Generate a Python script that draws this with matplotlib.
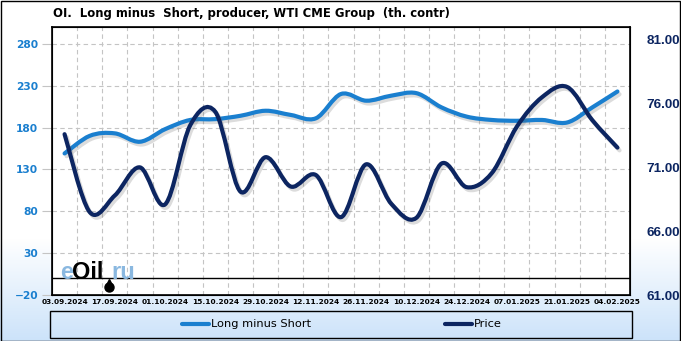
import numpy as np
import pandas as pd
import matplotlib
matplotlib.use("Agg")
import matplotlib.pyplot as plt
import matplotlib.dates as mdates
import matplotlib.patheffects as pe
from matplotlib.path import Path
from matplotlib.patches import PathPatch, Rectangle
from matplotlib.lines import Line2D
from matplotlib.font_manager import FontProperties

# weekly report dates
dates = pd.to_datetime([
    '2024-09-03', '2024-09-10', '2024-09-17', '2024-09-24', '2024-10-01', '2024-10-08',
    '2024-10-15', '2024-10-22', '2024-10-29', '2024-11-05', '2024-11-12', '2024-11-19',
    '2024-11-26', '2024-12-03', '2024-12-10', '2024-12-17', '2024-12-24', '2024-12-31',
    '2025-01-07', '2025-01-14', '2025-01-21', '2025-01-28', '2025-02-04'])

# Long minus Short, producer (th. contracts)
long_minus_short = [149, 170, 173, 163, 178, 189, 190, 194, 200, 195, 191, 220,
                    212, 218, 221, 204, 193, 189, 188, 189, 186, 204, 223]

# WTI price
price = [73.6, 67.5, 68.8, 71.0, 68.1, 74.3, 75.35, 69.1, 71.8, 69.5, 70.4, 67.1,
         71.24, 68.15, 67.05, 71.3, 69.45, 70.55, 74.2, 76.5, 77.3, 74.7, 72.55]

tick_labels = ['03.09.2024', '17.09.2024', '01.10.2024', '15.10.2024', '29.10.2024',
               '12.11.2024', '26.11.2024', '10.12.2024', '24.12.2024', '07.01.2025',
               '21.01.2025', '04.02.2025']

left_ticks = [-20, 30, 80, 130, 180, 230, 280]
right_ticks = [61, 66, 71, 76, 81]

BLUE = '#1a7fcf'
NAVY = '#0c2561'
W, H = 681, 341


def smooth_path(x, y):
    # catmull-rom curve through the points, as cubic bezier segments
    x = np.asarray(x, float)
    y = np.asarray(y, float)
    p = np.column_stack([x, y])
    verts = [p[0]]
    codes = [Path.MOVETO]
    n = len(p)
    for i in range(n - 1):
        p0 = p[i - 1] if i > 0 else p[i]
        p3 = p[i + 2] if i + 2 < n else p[i + 1]
        c1 = p[i] + (p[i + 1] - p0) / 6.0
        c2 = p[i + 1] - (p3 - p[i]) / 6.0
        verts += [c1, c2, p[i + 1]]
        codes += [Path.CURVE4] * 3
    return Path(verts, codes)


def px(x, y):
    return x / W, 1 - y / H


fig = plt.figure(figsize=(W / 100, H / 100), dpi=100)

# background gradient
bg = fig.add_axes([0, 0, 1, 1], zorder=-10)
t = np.linspace(0, 1, 341)
g = np.clip((t - 0.70) / 0.30, 0, 1)
top = np.array([1.0, 1.0, 1.0])
bot = np.array([0.80, 0.89, 0.98])
grad = top[None, :] * (1 - g[:, None]) + bot[None, :] * g[:, None]
bg.imshow(grad[:, None, :], aspect='auto', extent=[0, 1, 0, 1])
bg.set_axis_off()
fig.patches.append(Rectangle((0.5 / W, 0.5 / H), 1 - 1.5 / W, 1 - 1.5 / H, transform=fig.transFigure,
                             fill=False, edgecolor='black', lw=1))

ax = fig.add_axes([52 / W, 1 - 295 / H, (630 - 52) / W, (295 - 27) / H])
ax.set_facecolor('white')
xnum = mdates.date2num(dates)
half = 3.5
ax.set_xlim(xnum[0] - half, xnum[-1] + half)
ax.set_ylim(-20, 300)
ax.set_yticks(left_ticks)
ax.set_xticks(xnum[::2])
ax.set_xticklabels(tick_labels)
ax.set_xticks(xnum[:-1] + half, minor=True)
ax.grid(True, which='major', axis='y', color='#c4c4c4', linestyle=(0, (4, 3)), lw=0.8)
ax.grid(True, which='minor', axis='x', color='#c4c4c4', linestyle=(0, (4, 3)), lw=0.8)
ax.tick_params(axis='x', which='both', length=0, pad=3)
ax.tick_params(axis='y', length=7, color='#c4c4c4', pad=3)
for lab in ax.get_xticklabels():
    lab.set_fontweight('bold')
    lab.set_fontsize(5.3)
for lab in ax.get_yticklabels():
    lab.set_fontweight('bold')
    lab.set_fontsize(7.7)
    lab.set_color(BLUE)
for s in ax.spines.values():
    s.set_linewidth(1.2)
ax.axhline(0, color='black', lw=1.0, zorder=2)

shadow = [pe.SimpleLineShadow(offset=(1.5, -2), shadow_color='#606060', alpha=0.22), pe.Normal()]
ax.add_patch(PathPatch(smooth_path(xnum, long_minus_short), fill=False, edgecolor=BLUE,
                       lw=3, capstyle='round', joinstyle='round', path_effects=shadow, zorder=3))

ax2 = ax.twinx()
ax2.set_ylim(61, 82)
ax2.set_yticks(right_ticks)
ax2.set_yticklabels(['%.2f' % v for v in right_ticks],
                    fontproperties=FontProperties(family='Liberation Sans', weight='bold', size=9.7),
                    color=NAVY)
ax2.tick_params(axis='y', length=0, pad=12)
ax2.add_patch(PathPatch(smooth_path(xnum, price), fill=False, edgecolor=NAVY,
                        lw=3, capstyle='round', joinstyle='round', path_effects=shadow, zorder=3))

# watermark
wm = FontProperties(family='Liberation Sans', weight='bold', size=17)
fig.text(*px(60, 279), 'e', color='#8ab8e0', fontproperties=wm, va='baseline')
fig.text(*px(72, 279), 'Oil', color='black', fontproperties=wm, va='baseline')
fig.text(*px(111, 279), 'ru', color='#8ab8e0', fontproperties=wm, va='baseline')
# oil drop
fig.lines.append(Line2D([109 / W], [1 - 287 / H], transform=fig.transFigure,
                        marker='o', markersize=6.5, color='black', lw=0))
fig.lines.append(Line2D([109 / W], [1 - 282 / H], transform=fig.transFigure,
                        marker='^', markersize=5, color='black', lw=0))

# title
fig.text(*px(53, 13), 'OI.  Long minus  Short, producer, WTI CME Group  (th. contr)',
         fontsize=8.4, fontweight='bold', va='center', ha='left')

# legend
fig.patches.append(Rectangle(px(50, 338), (632 - 50) / W, (338 - 311) / H, transform=fig.transFigure,
                             fill=False, edgecolor='black', lw=1))
for x0, col, lab in [(182, BLUE, 'Long minus Short'), (445, NAVY, 'Price')]:
    fig.lines.append(Line2D([x0 / W, (x0 + 27) / W], [1 - 324 / H] * 2, transform=fig.transFigure,
                            color=col, lw=3, solid_capstyle='round'))
    fig.text(*px(x0 + 29, 324), lab, fontsize=8.2, va='center', ha='left')

fig.savefig('out.png', dpi=100)
